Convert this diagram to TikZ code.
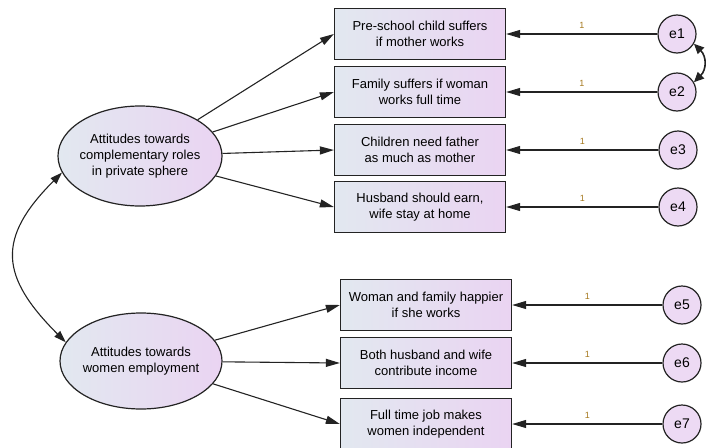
\documentclass[tikz,border=0pt]{standalone}
\usepackage{fontspec}
\setmainfont{Liberation Sans}
\usepackage{tikz}
\usetikzlibrary{shapes.geometric,arrows.meta}
\definecolor{shadeleft}{RGB}{226,232,240}
\definecolor{shaderight}{RGB}{234,212,242}
\definecolor{edgegray}{RGB}{35,35,35}
\definecolor{wtcol}{RGB}{165,120,30}
\tikzset{
  lat/.style={ellipse,draw=edgegray,line width=1.2pt,left color=shadeleft,right color=shaderight,
    inner sep=0pt,inner xsep=-4pt,align=center,font=\fontsize{13}{16}\selectfont},
  obs/.style={rectangle,draw=edgegray,line width=1.3pt,left color=shadeleft,right color=shaderight,
    minimum width=171pt,minimum height=51pt,inner sep=0pt,align=center,font=\fontsize{13}{15.5}\selectfont},
  err/.style={circle,draw=edgegray,line width=1.2pt,fill=shaderight!85,minimum size=38pt,
    inner sep=0pt,font=\fontsize{14}{14}\selectfont},
  arr/.style={-{Triangle[length=14pt,width=8pt]},line width=1.1pt,color=edgegray},
  cov/.style={{Triangle[length=12pt,width=8pt]}-{Triangle[length=12pt,width=8pt]},line width=1.1pt,color=edgegray},
  wt/.style={font=\fontsize{9}{9}\selectfont,text=wtcol,inner sep=1pt}
}
\begin{document}
\begin{tikzpicture}[x=1pt,y=1pt]
    \useasboundingbox (0,0) rectangle (706,-447);

    % Latent factors
    \node[lat,minimum width=164pt,minimum height=100pt] (priv) at (140,-156) {Attitudes towards\\complementary roles\\in private sphere};
    \node[lat,minimum width=162pt,minimum height=96pt] (empl) at (141,-361) {Attitudes towards\\women employment};

    % Indicators of private sphere roles
    \node[obs] (child) at (420,-34) {Pre-school child suffers\\if mother works};
    \node[obs] (family) at (420,-92) {Family suffers if woman\\works full time};
    \node[obs] (father) at (420,-150) {Children need father\\as much as mother};
    \node[obs] (earn) at (420,-207) {Husband should earn,\\wife stay at home};

    % Indicators of women employment
    \node[obs] (happy) at (426,-305) {Woman and family happier\\if she works};
    \node[obs] (income) at (426,-363) {Both husband and wife\\contribute income};
    \node[obs] (indep) at (426,-424) {Full time job makes\\women independent};

    % Error terms
    \node[err] (e1) at (677,-34) {e1};
    \node[err] (e2) at (677,-92) {e2};
    \node[err] (e3) at (678,-150) {e3};
    \node[err] (e4) at (678,-207) {e4};
    \node[err] (e5) at (682,-305) {e5};
    \node[err] (e6) at (682,-363) {e6};
    \node[err] (e7) at (682,-424) {e7};

    % Loadings
    \draw[arr] (priv) -- (child.west);
    \draw[arr] (priv) -- (family.west);
    \draw[arr] (priv) -- (father.west);
    \draw[arr] (priv) -- (earn.west);
    \draw[arr] (empl) -- (happy.west);
    \draw[arr] (empl) -- (income.west);
    \draw[arr] (empl) -- (indep.west);

    % Error paths
    \draw[arr] (e1) -- node[wt,above=4pt] {1} (child);
    \draw[arr] (e2) -- node[wt,above=4pt] {1} (family);
    \draw[arr] (e3) -- node[wt,above=4pt] {1} (father);
    \draw[arr] (e4) -- node[wt,above=4pt] {1} (earn);
    \draw[arr] (e5) -- node[wt,above=4pt] {1} (happy);
    \draw[arr] (e6) -- node[wt,above=4pt] {1} (income);
    \draw[arr] (e7) -- node[wt,above=4pt] {1} (indep);

    % Covariances
    \draw[cov] (priv.192) to[out=225,in=135,looseness=1.4] (empl.166);
    \draw[cov,line width=1.6pt,{Triangle[length=10pt,width=9pt]}-{Triangle[length=10pt,width=9pt]}] (e1.-30) to[out=-45,in=45,looseness=1.2] (e2.30);

  \end{tikzpicture}
\end{document}
